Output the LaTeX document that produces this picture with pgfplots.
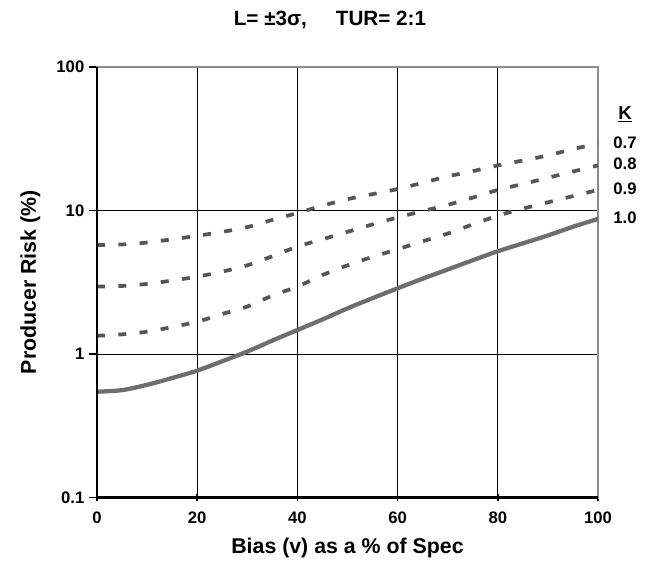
\documentclass[border=0pt]{standalone}
\usepackage{fontspec}
\setmainfont{Liberation Sans}
\usepackage{pgfplots}
\pgfplotsset{compat=1.18}
\definecolor{dashc}{HTML}{565656}
\definecolor{solidc}{HTML}{6E6E6E}
\definecolor{framec}{HTML}{8C8C8C}

\begin{document}
\begin{tikzpicture}
\begin{axis}[
  scale only axis, width=375.75pt, height=322.875pt,
  ymode=log, xmin=0, xmax=100, ymin=0.1, ymax=100,
  xtick={0,20,40,60,80,100},
  ytick={0.1,1,10,100}, yticklabels={0.1,1,10,100},
  yminorticks=false,
  xtick pos=bottom, ytick pos=left,
  xtick align=center, ytick align=outside,
  major tick length=6pt,
  tick style={black, line width=1.2pt},
  grid=major, major grid style={black, line width=0.7pt},
  axis line style={framec, line width=2pt},
  tick label style={font=\bfseries\fontsize{12.5}{14}\selectfont},
  xticklabel style={yshift=-4.5pt},
  /pgf/number format/assume math mode=true,
  xlabel={Bias (v) as a \% of Spec},
  ylabel={Producer Risk (\%)},
  xlabel style={font=\bfseries\fontsize{16}{18}\selectfont, at={(axis description cs:0.5,0)}, anchor=center, yshift=-37.5pt},
  ylabel style={font=\bfseries\fontsize{16}{18}\selectfont, at={(axis description cs:0,0.5)}, anchor=center, yshift=50pt},
  clip=false,
]
\addplot[dashc, line width=2.8pt, dash pattern=on 6pt off 10pt, smooth] coordinates {
(0,5.75)(5,5.8)(10,5.98)(15,6.3)(20,6.66)(25,7.1)(30,7.66)(35,8.6)(40,9.6)(45,10.8)(50,12.0)
(55,13.0)(60,14.1)(65,15.6)(70,17.3)(75,18.8)(80,20.6)(85,22.3)(90,24.2)(95,26.8)(100,29.2)};
\addplot[dashc, line width=2.8pt, dash pattern=on 6pt off 10pt, smooth] coordinates {
(0,2.95)(5,2.98)(10,3.08)(15,3.25)(20,3.46)(25,3.75)(30,4.15)(35,4.8)(40,5.6)(45,6.3)(50,7.1)
(55,8.0)(60,8.95)(65,9.9)(70,10.95)(75,12.3)(80,13.9)(85,15.3)(90,16.9)(95,18.7)(100,20.6)};
\addplot[dashc, line width=2.8pt, dash pattern=on 6pt off 10pt, smooth] coordinates {
(0,1.34)(5,1.37)(10,1.43)(15,1.54)(20,1.68)(25,1.9)(30,2.14)(35,2.55)(40,2.95)(45,3.55)(50,4.15)
(55,4.75)(60,5.37)(65,6.1)(70,6.9)(75,8.0)(80,9.2)(85,10.3)(90,11.4)(95,12.6)(100,13.9)};
\addplot[solidc, line width=3.2pt, smooth] coordinates {
(0,0.546)(5,0.56)(10,0.61)(15,0.68)(20,0.766)(25,0.89)(30,1.04)(35,1.24)(40,1.47)(45,1.74)(50,2.08)
(55,2.45)(60,2.87)(65,3.35)(70,3.88)(75,4.5)(80,5.2)(85,5.9)(90,6.7)(95,7.7)(100,8.74)};
% left and bottom axis lines in black
\draw[black, line width=2pt] (rel axis cs:0,1) -- (rel axis cs:0,0) -- (rel axis cs:1,0);
% curve labels
\node[font=\bfseries\fontsize{14}{16}\selectfont] at (axis cs:105.4,47) {\underline{K}};
\node[font=\bfseries\fontsize{12.5}{14}\selectfont] at (axis cs:105.4,29.7) {0.7};
\node[font=\bfseries\fontsize{12.5}{14}\selectfont] at (axis cs:105.4,21.1) {0.8};
\node[font=\bfseries\fontsize{12.5}{14}\selectfont] at (axis cs:105.4,14.2) {0.9};
\node[font=\bfseries\fontsize{12.5}{14}\selectfont] at (axis cs:105.4,8.9) {1.0};
% title
\node[font=\bfseries\fontsize{15.5}{18}\selectfont] at ([yshift=35.25pt]axis description cs:0.465,1) {L= ±3σ,\hspace{1.4em}TUR= 2:1};
\coordinate (sw) at (axis description cs:0,0);
\coordinate (ne) at (axis description cs:1,1);
\end{axis}
\useasboundingbox ([xshift=-72.75pt,yshift=-55.125pt]sw) rectangle ([xshift=40.5pt,yshift=50.25pt]ne);
\end{tikzpicture}
\end{document}
